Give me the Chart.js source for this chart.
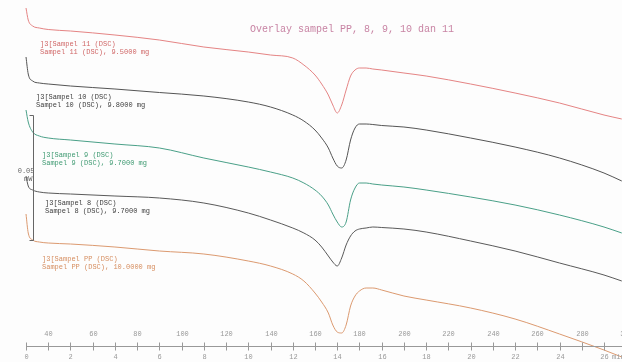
<!DOCTYPE html>
<html>
<head>
<meta charset="utf-8">
<script src="https://cdn.jsdelivr.net/npm/chart.js@4.4.1/dist/chart.umd.min.js"></script>
<style>
  html, body { margin: 0; padding: 0; background: #fdfdfd; }
  #wrap { width: 622px; height: 362px; }
</style>
</head>
<body>
<div id="wrap"><canvas id="dscChart" width="622" height="362"></canvas></div>
<script>
// time axis (min) shared by all runs
const minutes = [0, 0.1, 0.3, 0.6, 1, 2, 4, 6, 8, 10, 11, 12, 12.5, 13, 13.3, 13.6, 13.8, 14.0, 14.2, 14.4, 14.6, 14.8, 15.0, 15.3, 15.6, 16, 17, 18, 20, 22, 24, 26, 26.8];

// heat flow (mW), curves are offset on the overlay
const sampel11 = [-0.0032, -0.008, -0.0104, -0.0112, -0.0118, -0.0124, -0.014, -0.016, -0.0188, -0.0208, -0.022, -0.0232, -0.026, -0.03, -0.0336, -0.038, -0.042, -0.0452, -0.042, -0.036, -0.0304, -0.028, -0.0272, -0.0272, -0.0276, -0.028, -0.0292, -0.0304, -0.0336, -0.0372, -0.0412, -0.046, -0.0476];
const sampel10 = [-0.0228, -0.0296, -0.0324, -0.0332, -0.0336, -0.0344, -0.0356, -0.037, -0.0384, -0.0408, -0.0428, -0.046, -0.0484, -0.052, -0.0552, -0.0592, -0.0632, -0.0664, -0.0672, -0.064, -0.056, -0.0512, -0.0496, -0.0496, -0.0498, -0.0502, -0.0508, -0.052, -0.0552, -0.0588, -0.0632, -0.0692, -0.0724];
const sampel9 = [-0.044, -0.0488, -0.0528, -0.0544, -0.0552, -0.056, -0.0576, -0.0592, -0.0632, -0.0668, -0.0688, -0.0712, -0.0732, -0.076, -0.0784, -0.082, -0.0856, -0.0888, -0.0908, -0.0888, -0.08, -0.0752, -0.0732, -0.0732, -0.0736, -0.074, -0.0748, -0.076, -0.0788, -0.082, -0.086, -0.0908, -0.0932];
const sampel8 = [-0.0704, -0.0744, -0.076, -0.0768, -0.0772, -0.0776, -0.0784, -0.0792, -0.0812, -0.0852, -0.088, -0.0912, -0.0932, -0.096, -0.0988, -0.1024, -0.1048, -0.1064, -0.1032, -0.098, -0.0944, -0.0924, -0.0916, -0.0912, -0.0908, -0.091, -0.0916, -0.0928, -0.0964, -0.1004, -0.1052, -0.11, -0.1124];
const sampelPP = [-0.0856, -0.0932, -0.096, -0.0968, -0.0972, -0.0976, -0.0988, -0.1004, -0.1016, -0.1044, -0.1064, -0.1096, -0.1124, -0.1172, -0.1208, -0.1252, -0.13, -0.1328, -0.1332, -0.13, -0.1224, -0.1184, -0.1164, -0.1152, -0.1152, -0.116, -0.1184, -0.12, -0.1232, -0.1276, -0.1336, -0.14, -0.1428];

const seriesNames = ['Sampel 11', 'Sampel 10', 'Sampel 9', 'Sampel 8', 'Sampel PP'];
const sampleMass = ['9.5000', '9.8000', '9.7000', '9.7000', '10.0000'];

const timeTicks = [0, 2, 4, 6, 8, 10, 12, 14, 16, 18, 20, 22, 24, 26];
const tempTicks = [40, 60, 80, 100, 120, 140, 160, 180, 200, 220, 240, 260, 280, 300];
const startTemp = 30;   // °C at t = 0
const heatingRate = 10; // °C/min
const scaleBarSize = 0.05; // mW

const lineColors = ['#e58484', '#555555', '#4aa088', '#5a5a5a', '#dc9a70'];
const textColors = ['#d06868', '#3f3f3f', '#3f9a72', '#3f3f3f', '#d68e60'];
// label spot for each run, canvas px
const labelPos = [[40, 44], [36, 97], [42, 155], [45, 203], [42, 259]];

const toPoints = values => values.map((v, i) => ({ x: minutes[i], y: v }));

const overlayText = {
    id: 'overlayText',
    beforeDraw(chart) {
        const { ctx } = chart;
        ctx.save();
        ctx.fillStyle = '#fdfdfd';
        ctx.fillRect(0, 0, chart.width, chart.height);
        ctx.restore();
    },
    afterDatasetsDraw(chart) {
        const { ctx, scales: { x, y } } = chart;
        ctx.save();

        // title
        ctx.font = '10px "Liberation Mono", monospace';
        ctx.fillStyle = '#c884a4';
        ctx.textBaseline = 'middle';
        ctx.fillText('Overlay sampel PP, 8, 9, 10 dan 11', 250, 29);

        // curve labels
        ctx.font = '7px "Liberation Mono", monospace';
        seriesNames.forEach((name, i) => {
            const [lx, ly] = labelPos[i];
            ctx.fillStyle = textColors[i];
            ctx.fillText(']3[' + name + ' (DSC)', lx, ly);
            ctx.fillText(name + ' (DSC), ' + sampleMass[i] + ' mg', lx, ly + 8);
        });

        // 0.05 mW scale bar
        const bx = Math.round(x.getPixelForValue(0.3)) + 0.5;
        const top = y.getPixelForValue(-0.0462);
        const bottom = y.getPixelForValue(-0.0462 - scaleBarSize);
        ctx.strokeStyle = '#666';
        ctx.lineWidth = 1;
        ctx.beginPath();
        ctx.moveTo(bx - 4, top);
        ctx.lineTo(bx, top);
        ctx.lineTo(bx, bottom);
        ctx.lineTo(bx - 4, bottom);
        ctx.stroke();
        ctx.fillStyle = '#666';
        ctx.textAlign = 'right';
        ctx.fillText('0.05', bx + 1, (top + bottom) / 2 - 7);
        ctx.fillText('mW', bx - 1, (top + bottom) / 2 + 1);

        // time / temperature axis
        const axisY = chart.chartArea.bottom - 15.5;
        ctx.strokeStyle = '#999';
        ctx.beginPath();
        ctx.moveTo(x.getPixelForValue(0), axisY);
        ctx.lineTo(chart.chartArea.right, axisY);
        ctx.stroke();
        ctx.fillStyle = '#999';
        ctx.textAlign = 'center';
        timeTicks.forEach(t => {
            const px = Math.round(x.getPixelForValue(t)) + 0.5;
            ctx.beginPath();
            ctx.moveTo(px, axisY - 4);
            ctx.lineTo(px, axisY + 4);
            ctx.stroke();
            ctx.fillText(String(t), px, axisY + 11);
        });
        tempTicks.forEach(temp => {
            const px = Math.round(x.getPixelForValue((temp - startTemp) / heatingRate)) + 0.5;
            ctx.beginPath();
            ctx.moveTo(px, axisY - 4);
            ctx.lineTo(px, axisY + 4);
            ctx.stroke();
            ctx.fillText(String(temp), px, axisY - 12);
        });
        ctx.textAlign = 'left';
        ctx.fillText('min', x.getPixelForValue(26) + 8, axisY + 11);
        ctx.restore();
    }
};

document.addEventListener('DOMContentLoaded', () => {
    const ctx = document.getElementById('dscChart').getContext('2d');
    const allSeries = [sampel11, sampel10, sampel9, sampel8, sampelPP];

    new Chart(ctx, {
        type: 'line',
        data: {
            datasets: allSeries.map((values, i) => ({
                label: seriesNames[i],
                data: toPoints(values),
                borderColor: lineColors[i],
                borderWidth: 1,
                pointRadius: 0,
                fill: false,
                cubicInterpolationMode: 'monotone'
            }))
        },
        options: {
            responsive: false,
            animation: false,
            devicePixelRatio: 1,
            layout: { padding: 0 },
            scales: {
                x: { type: 'linear', min: -1.17, max: 26.81, display: false },
                y: { min: -0.1448, max: 0, display: false }
            },
            plugins: {
                legend: { display: false },
                tooltip: { enabled: false }
            }
        },
        plugins: [overlayText]
    });
});
</script>
</body>
</html>
